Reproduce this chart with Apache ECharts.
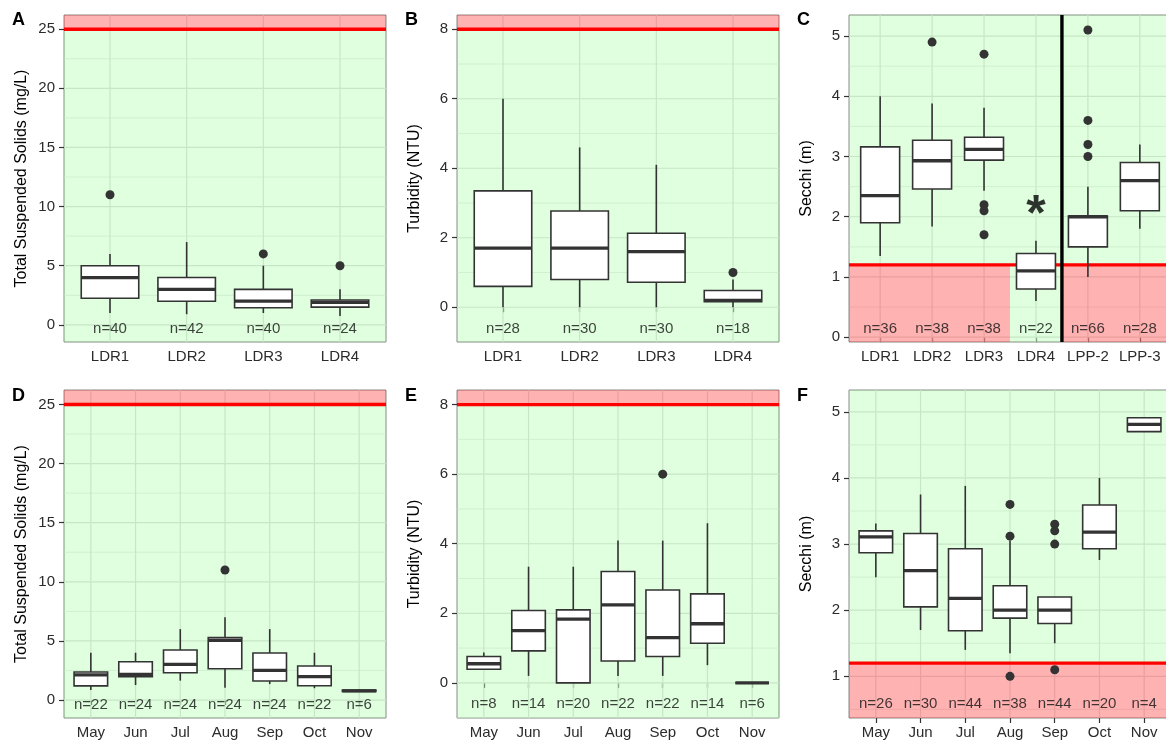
<!DOCTYPE html>
<html><head><meta charset="utf-8">
<script src="https://cdn.jsdelivr.net/npm/echarts@6/dist/echarts.min.js"></script>
<style>html,body{margin:0;padding:0;background:#fff}#c{width:1166px;height:744px}</style>
</head><body><div id="c"></div>
<script>
// ---------- categories ----------
const siteCats = ['LDR1', 'LDR2', 'LDR3', 'LDR4'];
const secchiSiteCats = ['LDR1', 'LDR2', 'LDR3', 'LDR4', 'LPP-2', 'LPP-3'];
const monthCats = ['May', 'Jun', 'Jul', 'Aug', 'Sep', 'Oct', 'Nov'];

// ---------- box stats: [lower whisker, Q1, median, Q3, upper whisker] ----------
const tssSiteBox = [[1, 2.25, 4, 5, 6], [0.9, 2, 3, 4, 7], [1, 1.45, 2, 3, 5], [0.75, 1.5, 1.9, 2.1, 3]];
const tssSiteOut = [[1, 11], [3, 6], [4, 5]];
const tssSiteN = [40, 42, 40, 24];

const turbSiteBox = [[0, 0.6, 1.7, 3.35, 6], [0, 0.8, 1.7, 2.77, 4.6], [0, 0.72, 1.6, 2.13, 4.1], [0, 0.16, 0.2, 0.48, 0.8]];
const turbSiteOut = [[4, 1]];
const turbSiteN = [28, 30, 30, 18];

const secchiSiteBox = [[1.35, 1.9, 2.35, 3.16, 4.0], [1.84, 2.46, 2.93, 3.27, 3.88], [2.43, 2.94, 3.12, 3.32, 3.81],
  [0.6, 0.8, 1.1, 1.39, 1.6], [1.0, 1.5, 2.0, 2.01, 2.5], [1.8, 2.1, 2.6, 2.9, 3.2]];
const secchiSiteOut = [[2, 4.9], [3, 4.7], [3, 2.2], [3, 2.1], [3, 1.7], [5, 5.1], [5, 3.6], [5, 3.2], [5, 3.0]];
const secchiSiteN = [36, 38, 38, 22, 66, 28];

const tssMonthBox = [[0.85, 1.2, 2.12, 2.37, 4], [1.27, 1.98, 2.17, 3.24, 4], [1.64, 2.31, 3.02, 4.23, 6], [1.04, 2.65, 5.05, 5.28, 7],
  [1.35, 1.61, 2.5, 3.98, 6], [1, 1.21, 1.98, 2.88, 4], [0.7, 0.72, 0.78, 0.84, 0.86]];
const tssMonthOut = [[4, 11]];
const tssMonthN = [22, 24, 24, 24, 24, 22, 6];

const turbMonthBox = [[0.39, 0.39, 0.55, 0.76, 0.87], [0.2, 0.92, 1.5, 2.08, 3.34], [0, 0, 1.83, 2.1, 3.34], [0.2, 0.63, 2.24, 3.2, 4.09],
  [0.2, 0.76, 1.3, 2.67, 4.09], [0.51, 1.14, 1.7, 2.56, 4.59], [0, 0, 0, 0, 0]];
const turbMonthOut = [[5, 6]];
const turbMonthN = [8, 14, 20, 22, 22, 14, 6];

const secchiMonthBox = [[2.5, 2.87, 3.11, 3.2, 3.31], [1.7, 2.05, 2.6, 3.16, 3.75], [1.4, 1.69, 2.18, 2.93, 3.88], [1.35, 1.88, 2.0, 2.37, 3.05],
  [1.5, 1.8, 2.0, 2.2, 2.2], [2.76, 2.93, 3.18, 3.59, 4.0], [4.7, 4.7, 4.81, 4.91, 4.91]];
const secchiMonthOut = [[4, 3.6], [4, 3.12], [4, 1.0], [5, 3.3], [5, 3.2], [5, 3.0], [5, 1.1]];
const secchiMonthN = [26, 30, 44, 38, 44, 20, 4];

// ---------- tick labels & thresholds ----------
const tssTicks = [0, 5, 10, 15, 20, 25];
const turbTicks = [0, 2, 4, 6, 8];
const secchiSiteTicks = [0, 1, 2, 3, 4, 5];
const secchiMonthTicks = [1, 2, 3, 4, 5];
const tssLimit = 25;
const turbLimit = 8;
const secchiLimit = 1.2;
const starSite = 'LDR4';
const starValue = 2.2;

// ---------- styling ----------
const FONT = '"Liberation Sans", Arial, Helvetica, sans-serif';
const GREEN = 'rgba(0,255,0,0.125)';
const RED = 'rgba(255,0,0,0.3)';
const BANDCOL = [GREEN, RED];
const BIG = 9999;

const starIdx = secchiSiteCats.indexOf(starSite) + 1;

const panels = [
  { letter: 'A', cats: siteCats, box: tssSiteBox, out: tssSiteOut, n: tssSiteN, ticks: tssTicks, ymin: -1.45, ymax: 26.2, nY: -0.38,
    title: 'Total Suspended Solids (mg/L)', left: 64, top: 15, height: 327,
    bands: [[-BIG, BIG, -BIG, tssLimit, 0], [-BIG, BIG, tssLimit, BIG, 1]], lines: [[0, tssLimit, 0]] },
  { letter: 'B', cats: siteCats, box: turbSiteBox, out: turbSiteOut, n: turbSiteN, ticks: turbTicks, ymin: -1.0, ymax: 8.41, nY: -0.63,
    title: 'Turbidity (NTU)', left: 457, top: 15, height: 327,
    bands: [[-BIG, BIG, -BIG, turbLimit, 0], [-BIG, BIG, turbLimit, BIG, 1]], lines: [[0, turbLimit, 0]] },
  { letter: 'C', cats: secchiSiteCats, box: secchiSiteBox, out: secchiSiteOut, n: secchiSiteN, ticks: secchiSiteTicks, ymin: -0.08, ymax: 5.35, nY: 0.14,
    title: 'Secchi (m)', left: 849, top: 15, height: 327,
    bands: [[-BIG, BIG, secchiLimit, BIG, 0], [starIdx - 0.5, starIdx + 0.5, -BIG, secchiLimit, 0],
            [-BIG, starIdx - 0.5, -BIG, secchiLimit, 1], [starIdx + 0.5, BIG, -BIG, secchiLimit, 1]],
    lines: [[0, secchiLimit, 0], [1, starIdx + 0.5, 1]], star: [[starIdx, starValue]] },
  { letter: 'D', cats: monthCats, box: tssMonthBox, out: tssMonthOut, n: tssMonthN, ticks: tssTicks, ymin: -1.52, ymax: 26.22, nY: -0.4,
    title: 'Total Suspended Solids (mg/L)', left: 64, top: 390, height: 328,
    bands: [[-BIG, BIG, -BIG, tssLimit, 0], [-BIG, BIG, tssLimit, BIG, 1]], lines: [[0, tssLimit, 0]] },
  { letter: 'E', cats: monthCats, box: turbMonthBox, out: turbMonthOut, n: turbMonthN, ticks: turbTicks, ymin: -1.01, ymax: 8.42, nY: -0.61,
    title: 'Turbidity (NTU)', left: 457, top: 390, height: 328,
    bands: [[-BIG, BIG, -BIG, turbLimit, 0], [-BIG, BIG, turbLimit, BIG, 1]], lines: [[0, turbLimit, 0]] },
  { letter: 'F', cats: monthCats, box: secchiMonthBox, out: secchiMonthOut, n: secchiMonthN, ticks: secchiMonthTicks, ymin: 0.37, ymax: 5.33, nY: 0.58,
    title: 'Secchi (m)', left: 849, top: 390, height: 328,
    bands: [[-BIG, BIG, secchiLimit, BIG, 0], [-BIG, BIG, -BIG, secchiLimit, 1]], lines: [[0, secchiLimit, 0]] }
];

const LINECOL = ['#ff0000', '#000000'];

function gridRender(params, api) {
  const cs = params.coordSys;
  const dir = api.value(0), v = api.value(1), major = api.value(2);
  const style = { stroke: '#e3e3e3', lineWidth: major ? 1.2 : 0.6 };
  if (dir === 0) {
    const y = api.coord([1, v])[1];
    return { type: 'line', shape: { x1: cs.x, y1: y, x2: cs.x + cs.width, y2: y }, style };
  }
  const x = api.coord([v, 1])[0];
  return { type: 'line', shape: { x1: x, y1: cs.y, x2: x, y2: cs.y + cs.height }, style };
}

function bandRender(params, api) {
  const cs = params.coordSys;
  const p0 = api.coord([api.value(0), api.value(2)]);
  const p1 = api.coord([api.value(1), api.value(3)]);
  const x0 = Math.max(Math.min(p0[0], p1[0]), cs.x);
  const x1 = Math.min(Math.max(p0[0], p1[0]), cs.x + cs.width);
  const y0 = Math.max(Math.min(p0[1], p1[1]), cs.y);
  const y1 = Math.min(Math.max(p0[1], p1[1]), cs.y + cs.height);
  return { type: 'rect', shape: { x: x0, y: y0, width: Math.max(0, x1 - x0), height: Math.max(0, y1 - y0) },
    style: { fill: BANDCOL[api.value(4)] } };
}

function lineRender(params, api) {
  const cs = params.coordSys;
  const dir = api.value(0), v = api.value(1);
  const style = { stroke: LINECOL[api.value(2)], lineWidth: 3.4 };
  if (dir === 0) {
    const y = api.coord([1, v])[1];
    return { type: 'line', shape: { x1: cs.x, y1: y, x2: cs.x + cs.width, y2: y }, style };
  }
  const x = api.coord([v, 1])[0];
  return { type: 'line', shape: { x1: x, y1: cs.y, x2: x, y2: cs.y + cs.height }, style };
}

function boxRender(params, api) {
  const x = api.value(0);
  const lo = api.coord([x, api.value(1)]), q1 = api.coord([x, api.value(2)]), md = api.coord([x, api.value(3)]);
  const q3 = api.coord([x, api.value(4)]), hi = api.coord([x, api.value(5)]);
  const xl = api.coord([x - 0.375, 0])[0], xr = api.coord([x + 0.375, 0])[0];
  const st = { stroke: '#333333', lineWidth: 1.6 };
  return { type: 'group', children: [
    { type: 'line', shape: { x1: hi[0], y1: hi[1], x2: q3[0], y2: q3[1] }, style: st },
    { type: 'line', shape: { x1: lo[0], y1: lo[1], x2: q1[0], y2: q1[1] }, style: st },
    { type: 'rect', shape: { x: xl, y: q3[1], width: xr - xl, height: q1[1] - q3[1] }, style: { fill: '#ffffff', stroke: '#333333', lineWidth: 1.6 } },
    { type: 'line', shape: { x1: xl, y1: md[1], x2: xr, y2: md[1] }, style: { stroke: '#333333', lineWidth: 3.3 } }
  ] };
}

function minorOf(ticks, lo, hi) {
  const step = ticks[1] - ticks[0];
  const res = [];
  for (let t = ticks[0] - step / 2; t <= ticks[ticks.length - 1] + step / 2 + 1e-9; t += step) {
    if (t > lo && t < hi) res.push(t);
  }
  return res;
}

const option = {
  animation: false,
  backgroundColor: '#ffffff',
  title: [], grid: [], xAxis: [], yAxis: [], series: []
};

const letterPos = { A: [12, 11], B: [405, 11], C: [797, 11], D: [12, 387], E: [405, 387], F: [797, 387] };

panels.forEach((p, i) => {
  const N = p.cats.length;
  const xTicks = p.cats.map((c, j) => j + 1);
  option.title.push({ text: p.letter, left: letterPos[p.letter][0], top: letterPos[p.letter][1], padding: 0,
    textStyle: { fontFamily: FONT, fontSize: 18, fontWeight: 'bold', color: '#000' } });
  option.grid.push({ left: p.left, top: p.top, width: 322, height: p.height, show: true,
    backgroundColor: '#ffffff', borderColor: '#8a8a8a', borderWidth: 1, containLabel: false, outerBoundsMode: 'none' });
  option.xAxis.push({ type: 'value', gridIndex: i, min: 0.4, max: N + 0.6,
    axisLine: { show: false },
    axisTick: { show: true, length: 5, lineStyle: { color: '#333', width: 1.2 }, customValues: xTicks },
    axisLabel: { show: true, customValues: xTicks, formatter: (v) => p.cats[Math.round(v) - 1],
      color: '#2b2b2b', fontSize: 15, fontFamily: FONT, margin: 7 },
    splitLine: { show: false }, minorSplitLine: { show: false } });
  option.yAxis.push({ type: 'value', gridIndex: i, min: p.ymin, max: p.ymax,
    name: p.title, nameLocation: 'middle', nameGap: 34,
    nameTextStyle: { fontFamily: FONT, fontSize: 16, color: '#000' },
    axisLine: { show: false },
    axisTick: { show: true, length: 5, lineStyle: { color: '#333', width: 1.2 }, customValues: p.ticks },
    axisLabel: { show: true, customValues: p.ticks, color: '#2b2b2b', fontSize: 15, fontFamily: FONT, margin: 9 },
    splitLine: { show: false } });

  const gl = [];
  p.ticks.forEach(t => gl.push([0, t, 1]));
  minorOf(p.ticks, p.ymin, p.ymax).forEach(t => gl.push([0, t, 0]));
  xTicks.forEach(t => gl.push([1, t, 1]));
  option.series.push({ type: 'custom', xAxisIndex: i, yAxisIndex: i, z: 1, silent: true, renderItem: gridRender, data: gl });
  option.series.push({ type: 'custom', xAxisIndex: i, yAxisIndex: i, z: 2, silent: true, renderItem: bandRender, data: p.bands });
  option.series.push({ type: 'custom', xAxisIndex: i, yAxisIndex: i, z: 3, silent: true, renderItem: lineRender, data: p.lines });
  option.series.push({ type: 'custom', xAxisIndex: i, yAxisIndex: i, z: 4, silent: true, renderItem: boxRender,
    data: p.box.map((b, j) => [j + 1].concat(b)) });
  option.series.push({ type: 'scatter', xAxisIndex: i, yAxisIndex: i, z: 5, silent: true, symbolSize: 9,
    itemStyle: { color: '#333333', opacity: 1 }, data: p.out });
  option.series.push({ type: 'scatter', xAxisIndex: i, yAxisIndex: i, z: 6, silent: true, symbolSize: 1,
    itemStyle: { color: 'rgba(0,0,0,0)' },
    label: { show: true, position: 'inside', formatter: (d) => 'n=' + p.n[d.dataIndex], color: '#111', fontSize: 15, fontFamily: FONT },
    data: p.n.map((v, j) => [j + 1, p.nY]) });
  if (p.star) {
    option.series.push({ type: 'scatter', xAxisIndex: i, yAxisIndex: i, z: 6, silent: true, symbolSize: 1,
      itemStyle: { color: 'rgba(0,0,0,0)' },
      label: { show: true, position: 'inside', formatter: '*', color: '#000', fontSize: 50, fontWeight: 'bold', fontFamily: FONT, offset: [0, 12] },
      data: p.star });
  }
});

const chart = echarts.init(document.getElementById('c'), null, { renderer: 'canvas' });
chart.setOption(option);
</script></body></html>
